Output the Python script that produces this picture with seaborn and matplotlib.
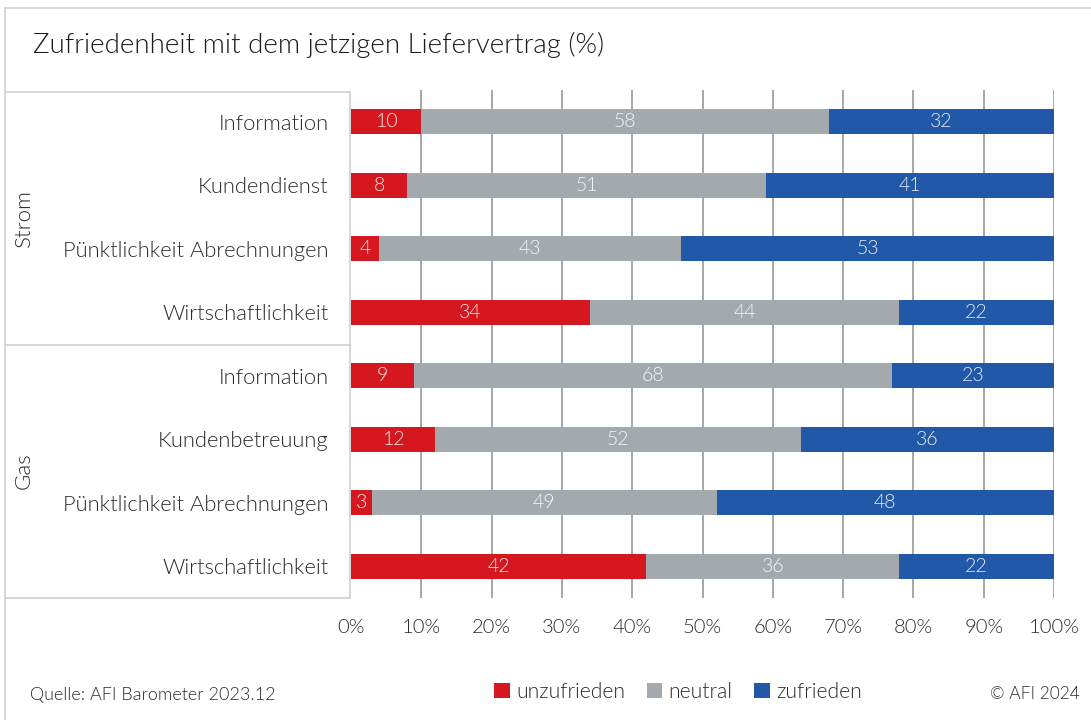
import matplotlib
matplotlib.use("Agg")
import matplotlib.pyplot as plt
from matplotlib.lines import Line2D
from matplotlib.patches import Patch
import seaborn as sns
import pandas as pd
import numpy as np

# ---- data ----
groups = ["Strom", "Strom", "Strom", "Strom", "Gas", "Gas", "Gas", "Gas"]
categories = ["Information", "Kundendienst", "Pünktlichkeit Abrechnungen", "Wirtschaftlichkeit",
              "Information", "Kundenbetreuung", "Pünktlichkeit Abrechnungen", "Wirtschaftlichkeit"]
unzufrieden = [10, 8, 4, 34, 9, 12, 3, 42]
neutral = [58, 51, 43, 44, 68, 52, 49, 36]
zufrieden = [32, 41, 53, 22, 23, 36, 48, 22]
series_names = ["unzufrieden", "neutral", "zufrieden"]
tick_values = [0, 10, 20, 30, 40, 50, 60, 70, 80, 90, 100]
title = "Zufriedenheit mit dem jetzigen Liefervertrag (%)"
source = "Quelle: AFI Barometer 2023.12"
copyright_text = "© AFI 2024"

colors = {"unzufrieden": "#d5181f", "neutral": "#a4a9ae", "zufrieden": "#2258a8"}

sns.set_theme(style="white")
plt.rcParams["font.family"] = ["Lato", "DejaVu Sans"]
plt.rcParams["font.weight"] = 300
TXT = "#2a2a2a"

keys = [f"{g}|{c}|{i}" for i, (g, c) in enumerate(zip(groups, categories))]
df = pd.DataFrame({
    "key": keys,
    "unzufrieden": unzufrieden,
    "neutral": neutral,
    "zufrieden": zufrieden,
})
df["cum_u"] = df["unzufrieden"]
df["cum_n"] = df["unzufrieden"] + df["neutral"]
df["cum_z"] = df["cum_n"] + df["zufrieden"]

W, H = 1091, 720
fig = plt.figure(figsize=(W / 100, H / 100), dpi=100)
ax = fig.add_axes([351 / W, 1 - 598 / H, (1054 - 351) / W, (598 - 90) / H])

for col, name in [("cum_z", "zufrieden"), ("cum_n", "neutral"), ("cum_u", "unzufrieden")]:
    sns.barplot(data=df, x=col, y="key", orient="h", order=keys, color=colors[name],
                saturation=1, width=0.4, linewidth=0, ax=ax, zorder=3)

# value labels
for i in range(len(keys)):
    starts = [0, df["cum_u"][i], df["cum_n"][i]]
    vals = [unzufrieden[i], neutral[i], zufrieden[i]]
    for s, v in zip(starts, vals):
        ax.text(s + v / 2, i, str(v), ha="center", va="center", color="white",
                alpha=0.9, fontsize=14, zorder=5)

ax.set_xlim(0, 100)
ax.set_ylim(len(keys) - 0.5, -0.5)
ax.set_xticks(tick_values)
ax.set_xticklabels([f"{t}%" for t in tick_values])
ax.set_yticks(range(len(keys)))
ax.set_yticklabels(categories)
ax.set_xlabel("")
ax.set_ylabel("")
ax.tick_params(axis="both", length=0, colors=TXT)
ax.tick_params(axis="x", pad=15, labelsize=14.5)
ax.tick_params(axis="y", pad=16, labelsize=15.8)
for sp in ax.spines.values():
    sp.set_visible(False)
ax.xaxis.grid(True, color="#a0a0a0", linewidth=1.3, zorder=0)
ax.set_axisbelow(True)
gl = ax.get_xgridlines()
gl[0].set_visible(False)

# frame / panel lines in figure pixel coordinates
def fline(x0, y0, x1, y1, color="#cfcfcf", lw=1.2):
    fig.add_artist(Line2D([x0 / W, x1 / W], [1 - y0 / H, 1 - y1 / H],
                          color=color, linewidth=lw, transform=fig.transFigure))

fline(5, 8, W, 8)
fline(5, 8, 5, H)
fline(5, 92, 350, 92)
fline(5, 345, 350, 345)
fline(5, 598, 350, 598)
fline(350, 92, 350, 598)

# group labels
fig.text(24 / W, 1 - 218 / H, "Strom", rotation=90, ha="center", va="center",
         fontsize=16, color=TXT)
fig.text(24 / W, 1 - 471 / H, "Gas", rotation=90, ha="center", va="center",
         fontsize=16, color=TXT)

# title
fig.text(33 / W, 1 - 45 / H, title, ha="left", va="center", fontsize=19.9, color="#1a1a1a")

# footer
fig.text(30 / W, 1 - 695 / H, source, ha="left", va="center", fontsize=13, color=TXT)
fig.text(1080 / W, 1 - 694 / H, copyright_text, ha="right", va="center", fontsize=12.5, color=TXT)

handles = [Patch(facecolor=colors[n], edgecolor="none", label=n) for n in series_names]
fig.legend(handles=handles, loc="center", bbox_to_anchor=(678 / W, 1 - 692 / H), ncol=3,
           frameon=False, fontsize=15.2, handlelength=0.75, handleheight=0.75,
           handletextpad=0.3, columnspacing=1.0, labelcolor=TXT)

fig.savefig("out.png", dpi=100, facecolor="white")
